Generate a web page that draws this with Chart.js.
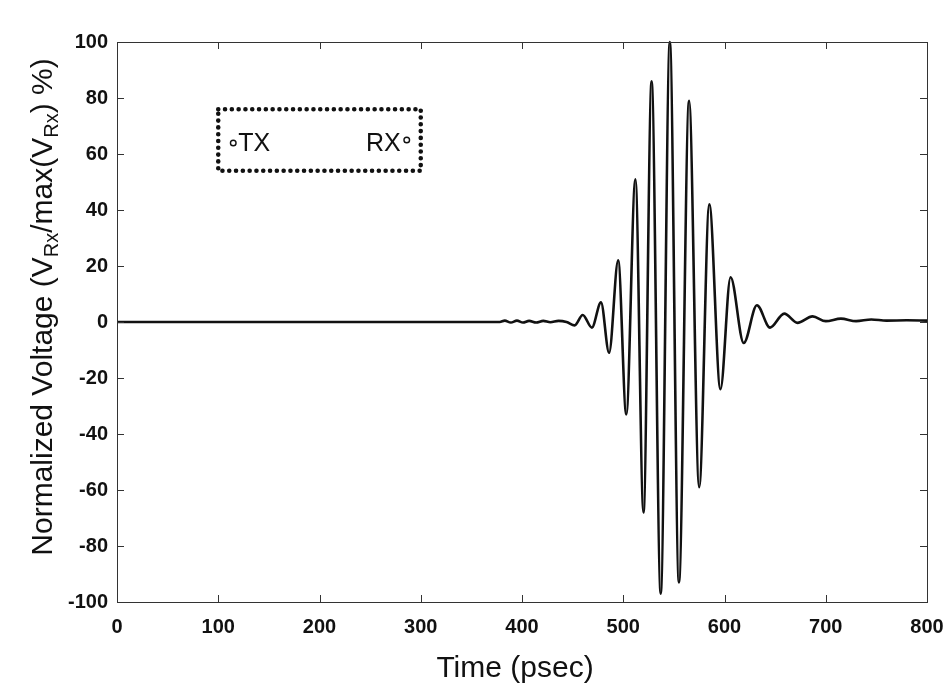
<!DOCTYPE html>
<html>
<head>
<meta charset="utf-8">
<script src="https://cdn.jsdelivr.net/npm/chart.js@4/dist/chart.umd.min.js"></script>
<style>
  body { margin: 0; background: #fff; }
  #wrap { width: 949px; height: 692px; }
</style>
</head>
<body>
<div id="wrap"><canvas id="pulse" width="949" height="692"></canvas></div>
<script>
// received pulse, time in psec and voltage in % of its max
const timePs = [0, 100, 200, 300, 378, 383, 389, 395, 401, 407, 414, 421, 428, 436, 444, 452,
  460, 469, 478, 486, 495, 503, 512, 520, 528, 537, 546, 555, 565, 575, 585, 596, 606,
  619, 632, 645, 659, 672, 687, 700, 715, 730, 745, 760, 780, 800];
const voltagePct = [0, 0, 0, 0, 0, 0.5, -0.2, 0.5, -0.2, 0.4, -0.2, 0.4, -0.1, 0.4, 0, -1.2,
  2.5, -2, 7, -11, 22, -33, 51, -68, 86, -97, 100, -93, 79, -59, 42, -24, 16,
  -7.5, 6, -2, 3, -0.3, 2, 0.3, 1.2, 0.3, 0.9, 0.5, 0.6, 0.5];

const xTicks = [0, 100, 200, 300, 400, 500, 600, 700, 800];
const yTicks = [-100, -80, -60, -40, -20, 0, 20, 40, 60, 80, 100];

// antenna legend box (data coords) and its labels
const boxX = [100, 300];
const boxY = [54, 76];
const boxLabels = ['TX', 'RX'];

const INK = '#111';
const FONT = '"Liberation Sans", Arial, Helvetica, sans-serif';

const points = timePs.map((t, i) => ({ x: t, y: voltagePct[i] }));

// frame with inward ticks on all four sides, like a matlab axes box
const frame = {
  id: 'frame',
  afterDraw(chart) {
    const { ctx, chartArea: a, scales: { x, y } } = chart;
    ctx.save();
    ctx.strokeStyle = '#333';
    ctx.lineWidth = 1;
    ctx.strokeRect(a.left + 0.5, a.top + 0.5, a.right - a.left, a.bottom - a.top);
    const len = 7;
    ctx.beginPath();
    xTicks.forEach(v => {
      const px = Math.round(x.getPixelForValue(v)) + 0.5;
      ctx.moveTo(px, a.bottom); ctx.lineTo(px, a.bottom - len);
      ctx.moveTo(px, a.top); ctx.lineTo(px, a.top + len);
    });
    yTicks.forEach(v => {
      const py = Math.round(y.getPixelForValue(v)) + 0.5;
      ctx.moveTo(a.left, py); ctx.lineTo(a.left + len, py);
      ctx.moveTo(a.right, py); ctx.lineTo(a.right - len, py);
    });
    ctx.stroke();
    ctx.restore();
  }
};

// dotted box with the TX / RX markers
const antennaBox = {
  id: 'antennaBox',
  afterDatasetsDraw(chart) {
    const { ctx, scales: { x, y } } = chart;
    const l = x.getPixelForValue(boxX[0]), r = x.getPixelForValue(boxX[1]);
    const t = y.getPixelForValue(boxY[1]), b = y.getPixelForValue(boxY[0]);
    ctx.save();
    ctx.strokeStyle = INK;
    ctx.lineWidth = 4.6;
    ctx.lineCap = 'round';
    ctx.setLineDash([0, 6.8]);
    ctx.strokeRect(l, t, r - l, b - t);
    ctx.setLineDash([]);
    const mid = (t + b) / 2 + 3;
    ctx.fillStyle = INK;
    ctx.font = '25px ' + FONT;
    ctx.textBaseline = 'middle';
    ctx.lineWidth = 1.4;
    ctx.beginPath(); ctx.arc(l + 15, mid, 2.8, 0, Math.PI * 2); ctx.stroke();
    ctx.textAlign = 'left';
    ctx.fillText(boxLabels[0], l + 20, mid + 1);
    ctx.textAlign = 'right';
    ctx.fillText(boxLabels[1], r - 20, mid + 1);
    ctx.beginPath(); ctx.arc(r - 14, mid - 3, 2.8, 0, Math.PI * 2); ctx.stroke();
    ctx.restore();
  }
};

// axis titles, the y one carries subscripts
const titles = {
  id: 'titles',
  afterDraw(chart) {
    const { ctx } = chart;
    const size = 30, sub = 20;
    ctx.save();
    ctx.fillStyle = INK;
    ctx.textBaseline = 'alphabetic';
    ctx.font = size + 'px ' + FONT;
    ctx.textAlign = 'center';
    ctx.fillText('Time (psec)', 515, 677);

    const parts = [
      ['Normalized Voltage (V', false], ['Rx', true], ['/max(V', false], ['Rx', true], [') %)', false]
    ];
    const fontOf = s => (s ? sub : size) + 'px ' + FONT;
    let total = 0;
    parts.forEach(([s, isSub]) => { ctx.font = fontOf(isSub); total += ctx.measureText(s).width; });
    ctx.translate(52, 307);
    ctx.rotate(-Math.PI / 2);
    ctx.textAlign = 'left';
    let cx = -total / 2;
    parts.forEach(([s, isSub]) => {
      ctx.font = fontOf(isSub);
      ctx.fillText(s, cx, isSub ? 6 : 0);
      cx += ctx.measureText(s).width;
    });
    ctx.restore();
  }
};

new Chart(document.getElementById('pulse'), {
  type: 'line',
  data: {
    datasets: [{
      data: points,
      borderColor: INK,
      borderWidth: 2.6,
      pointRadius: 0,
      cubicInterpolationMode: 'monotone',
      fill: false,
      clip: 4
    }]
  },
  options: {
    responsive: false,
    animation: false,
    layout: { padding: { top: 42, right: 22, left: 0, bottom: 0 } },
    plugins: { legend: { display: false }, tooltip: { enabled: false } },
    scales: {
      x: {
        type: 'linear', min: 0, max: 800,
        afterBuildTicks: s => { s.ticks = xTicks.map(v => ({ value: v })); },
        afterFit: s => { s.height = 90; },
        grid: { display: false }, border: { display: false },
        ticks: { color: INK, padding: 5, font: { family: FONT, size: 20, weight: 'bold' } }
      },
      y: {
        min: -100, max: 100,
        afterBuildTicks: s => { s.ticks = yTicks.map(v => ({ value: v })); },
        afterFit: s => { s.width = 117; },
        grid: { display: false }, border: { display: false },
        ticks: { color: INK, padding: 1, font: { family: FONT, size: 20, weight: 'bold' } }
      }
    }
  },
  plugins: [frame, antennaBox, titles]
});
</script>
</body>
</html>
